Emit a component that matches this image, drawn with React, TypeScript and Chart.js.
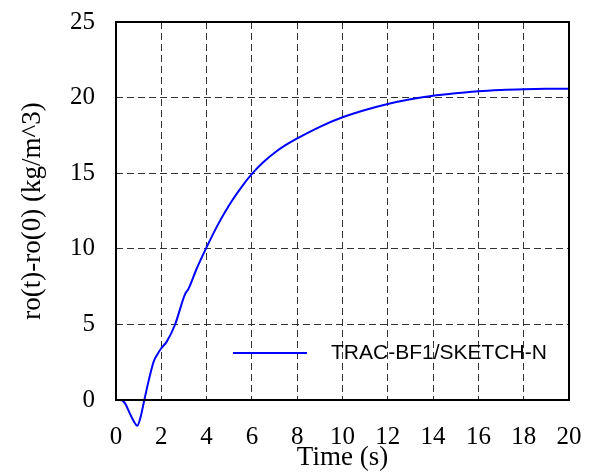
import React, { useEffect, useRef } from "react";
import { Chart, registerables } from "chart.js";

Chart.register(...registerables);

const timeValues = [0, 0.2, 0.4, 0.6, 0.77, 0.94, 1.09, 1.25, 1.43, 1.57, 1.68, 1.82, 2.0, 2.24, 2.6, 3.05, 3.2, 3.56, 4.0, 4.5, 5.0, 5.5, 6.0, 6.5, 7.0, 7.5, 8, 9, 10, 11, 12, 13, 14, 15, 16, 17, 18, 19, 20];
const densityValues = [0, 0, -0.22, -0.85, -1.37, -1.7, -1.1, 0, 1.2, 2.05, 2.6, 3.0, 3.42, 3.86, 4.96, 7.0, 7.35, 8.68, 10.1, 11.6, 12.9, 14.0, 14.95, 15.72, 16.35, 16.87, 17.3, 18.07, 18.7, 19.18, 19.58, 19.89, 20.13, 20.28, 20.42, 20.5, 20.55, 20.58, 20.59];
const xTicks = [0, 2, 4, 6, 8, 10, 12, 14, 16, 18, 20];
const yTicks = [0, 5, 10, 15, 20, 25];
const seriesLabel = "TRAC-BF1/SKETCH-N";
const xTitle = "Time (s)";
const yTitle = "ro(t)-ro(0) (kg/m^3)";

const legendPlugin = {
  id: "insideLegend",
  afterDraw(chart: any) {
    const { ctx, chartArea } = chart;
    ctx.save();
    const y = chartArea.bottom - 47;
    const x0 = chartArea.left + 117;
    ctx.strokeStyle = "#0000ff";
    ctx.lineWidth = 2;
    ctx.beginPath();
    ctx.moveTo(x0, y);
    ctx.lineTo(x0 + 74, y);
    ctx.stroke();
    ctx.fillStyle = "#000";
    ctx.font = "21px 'Liberation Sans', Arial, sans-serif";
    ctx.textBaseline = "middle";
    ctx.textAlign = "left";
    ctx.fillText(seriesLabel, x0 + 98, y);
    ctx.restore();
  },
};

const borderPlugin = {
  id: "plotBorder",
  afterDraw(chart: any) {
    const { ctx, chartArea } = chart;
    ctx.save();
    ctx.strokeStyle = "#000";
    ctx.lineWidth = 2;
    ctx.strokeRect(chartArea.left, chartArea.top, chartArea.right - chartArea.left, chartArea.bottom - chartArea.top);
    ctx.restore();
  },
};

export default function App() {
  const ref = useRef<HTMLCanvasElement>(null);
  useEffect(() => {
    if (!ref.current) return;
    const serif = "'Liberation Serif', 'Times New Roman', serif";
    const chart = new Chart(ref.current, {
      type: "line",
      data: {
        datasets: [
          {
            label: seriesLabel,
            data: timeValues.map((t, i) => ({ x: t, y: densityValues[i] })),
            borderColor: "#0000ff",
            borderWidth: 2,
            pointRadius: 0,
            cubicInterpolationMode: "monotone",
            fill: false,
            clip: false as any,
          },
        ],
      },
      options: {
        animation: false,
        responsive: false,
        maintainAspectRatio: false,
        layout: { padding: { top: 22, right: 24, left: 0, bottom: 0 } },
        plugins: { legend: { display: false }, tooltip: { enabled: false } },
        scales: {
          x: {
            type: "linear",
            min: 0,
            max: 20,
            afterBuildTicks: (s: any) => { s.ticks = xTicks.map((v) => ({ value: v })); },
            afterFit: (s: any) => { s.height = 75; s.paddingLeft = 0; s.paddingRight = 0; },
            border: { display: false, dash: [7, 4] },
            grid: { color: "#333", lineWidth: 1, drawTicks: false, tickLength: 0 } as any,
            ticks: { color: "#000", font: { family: serif, size: 25 }, padding: 22, maxRotation: 0 },
            title: { display: true, text: xTitle, color: "#000", font: { family: serif, size: 27 }, padding: { top: 0, bottom: 1 } },
          },
          y: {
            type: "linear",
            min: 0,
            max: 25,
            afterBuildTicks: (s: any) => { s.ticks = yTicks.map((v) => ({ value: v })); },
            afterFit: (s: any) => { s.width = 116; s.paddingTop = 0; s.paddingBottom = 0; },
            border: { display: false, dash: [7, 4] },
            grid: { color: "#333", lineWidth: 1, drawTicks: false, tickLength: 0 } as any,
            ticks: { color: "#000", font: { family: serif, size: 25 }, padding: 21 },
            title: { display: true, text: yTitle, color: "#000", font: { family: serif, size: 27 }, padding: { top: 17, bottom: 0 } },
          },
        },
      },
      plugins: [borderPlugin, legendPlugin],
    } as any);
    return () => chart.destroy();
  }, []);
  return (
    <div style={{ position: "fixed", left: 0, top: 0, width: 593, height: 475, background: "#fff" }}>
      <canvas ref={ref} width={593} height={475} style={{ width: 593, height: 475 }} />
    </div>
  );
}
